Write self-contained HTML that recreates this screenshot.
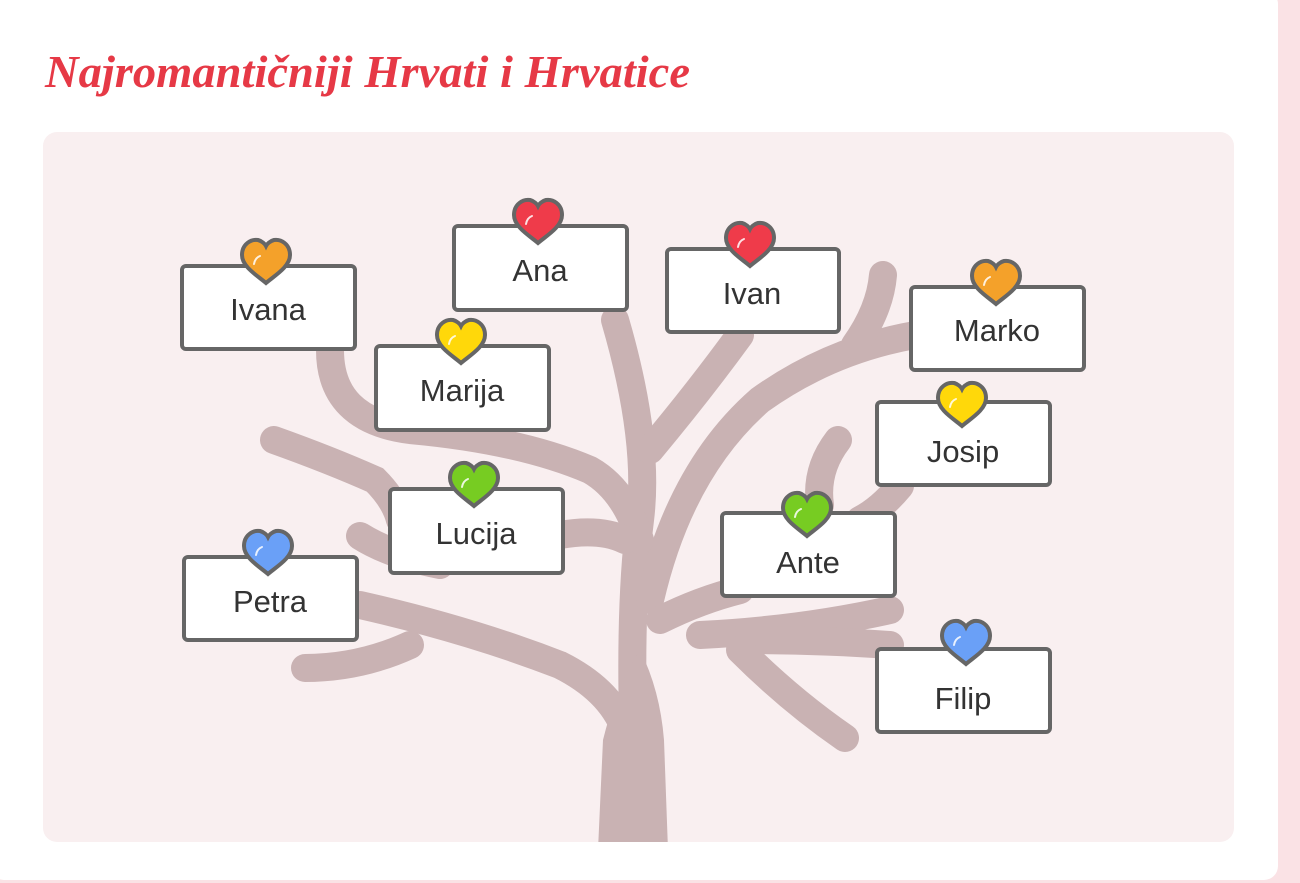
<!DOCTYPE html>
<html><head><meta charset="utf-8"><style>
html,body{margin:0;padding:0;width:1300px;height:883px;overflow:hidden;background:#fae2e5;}
svg{display:block}
</style></head><body>
<svg width="1300" height="883" viewBox="0 0 1300 883" xmlns="http://www.w3.org/2000/svg">
<defs>
<path id="h" d="M0,21 C-8,14 -24,5 -24,-7 C-24,-18 -15,-23 -8,-22 C-4,-21 -1,-18 0,-16 C1,-18 4,-21 8,-22 C15,-23 24,-18 24,-7 C24,5 8,14 0,21 Z"/>
<clipPath id="pc"><rect x="43" y="132" width="1191" height="710" rx="14"/></clipPath>
</defs>
<rect x="-10" y="-10" width="1288" height="890" rx="14" fill="#ffffff"/>
<text x="45" y="87" font-family="'Liberation Serif',serif" font-style="italic" font-weight="bold" font-size="46" fill="#e63946" textLength="645" lengthAdjust="spacingAndGlyphs">Najromantičniji Hrvati i Hrvatice</text>
<rect x="43" y="132" width="1191" height="710" rx="14" fill="#f9eff0"/>
<g clip-path="url(#pc)">
<g fill="none" stroke="#c9b2b3" stroke-linecap="round" stroke-width="28">
<path d="M633,860 L633,720 Q630,600 640,520 Q650,440 615,320"/>
<path d="M740,335 Q700,390 650,450"/>
<path d="M650,600 Q680,470 760,400 Q830,350 915,335"/>
<path d="M855,345 Q880,310 883,275"/>
<path d="M330,350 Q330,420 410,430 Q520,440 590,470 Q625,490 640,540"/>
<path d="M274,440 Q330,460 375,480 Q395,500 400,520"/>
<path d="M360,536 Q390,555 440,565"/>
<path d="M560,535 Q600,528 625,540"/>
<path d="M360,605 Q470,630 560,665 Q610,690 625,730"/>
<path d="M305,668 Q360,668 410,645"/>
<path d="M838,440 Q815,470 820,505"/>
<path d="M900,486 Q880,510 860,520"/>
<path d="M660,620 Q700,600 740,590"/>
<path d="M700,635 Q800,630 890,610"/>
<path d="M740,640 Q820,640 890,645"/>
<path d="M740,650 Q790,700 845,738"/>
</g>
<path d="M598,850 L668,850 L664,740 Q660,690 640,650 Q615,690 603,740 Z" fill="#c9b2b3"/>
</g>
<g font-family="'Liberation Sans',sans-serif" font-size="31" fill="#333" text-anchor="middle">
<g stroke="#666" stroke-width="4" fill="#fff">
<rect x="182" y="266" width="173" height="83" rx="4"/>
<rect x="454" y="226" width="173" height="84" rx="4"/>
<rect x="667" y="249" width="172" height="83" rx="4"/>
<rect x="911" y="287" width="173" height="83" rx="4"/>
<rect x="376" y="346" width="173" height="84" rx="4"/>
<rect x="877" y="402" width="173" height="83" rx="4"/>
<rect x="390" y="489" width="173" height="84" rx="4"/>
<rect x="722" y="513" width="173" height="83" rx="4"/>
<rect x="184" y="557" width="173" height="83" rx="4"/>
<rect x="877" y="649" width="173" height="83" rx="4"/>
</g>
<text x="268" y="320">Ivana</text>
<text x="540" y="281">Ana</text>
<text x="752" y="304">Ivan</text>
<text x="997" y="341">Marko</text>
<text x="462" y="401">Marija</text>
<text x="963" y="462">Josip</text>
<text x="476" y="544">Lucija</text>
<text x="808" y="573">Ante</text>
<text x="270" y="612">Petra</text>
<text x="963" y="709">Filip</text>
</g>
<g stroke="#666" stroke-width="4">
<use href="#h" x="266" y="262" fill="#f4a12a"/>
<use href="#h" x="538" y="222" fill="#ef3b4a"/>
<use href="#h" x="750" y="245" fill="#ef3b4a"/>
<use href="#h" x="996" y="283" fill="#f4a12a"/>
<use href="#h" x="461" y="342" fill="#ffd80a"/>
<use href="#h" x="962" y="405" fill="#ffd80a"/>
<use href="#h" x="474" y="485" fill="#77cc22"/>
<use href="#h" x="807" y="515" fill="#77cc22"/>
<use href="#h" x="268" y="553" fill="#6aa0f7"/>
<use href="#h" x="966" y="643" fill="#6aa0f7"/>
</g>
<g stroke="#fff" stroke-width="2" fill="none" stroke-linecap="round" opacity="0.85">
<path d="M254,264 Q255,258 260,256"/>
<path d="M526,224 Q527,218 532,216"/>
<path d="M738,247 Q739,241 744,239"/>
<path d="M984,285 Q985,279 990,277"/>
<path d="M449,344 Q450,338 455,336"/>
<path d="M950,407 Q951,401 956,399"/>
<path d="M462,487 Q463,481 468,479"/>
<path d="M795,517 Q796,511 801,509"/>
<path d="M256,555 Q257,549 262,547"/>
<path d="M954,645 Q955,639 960,637"/>
</g>
</svg>
</body></html>
